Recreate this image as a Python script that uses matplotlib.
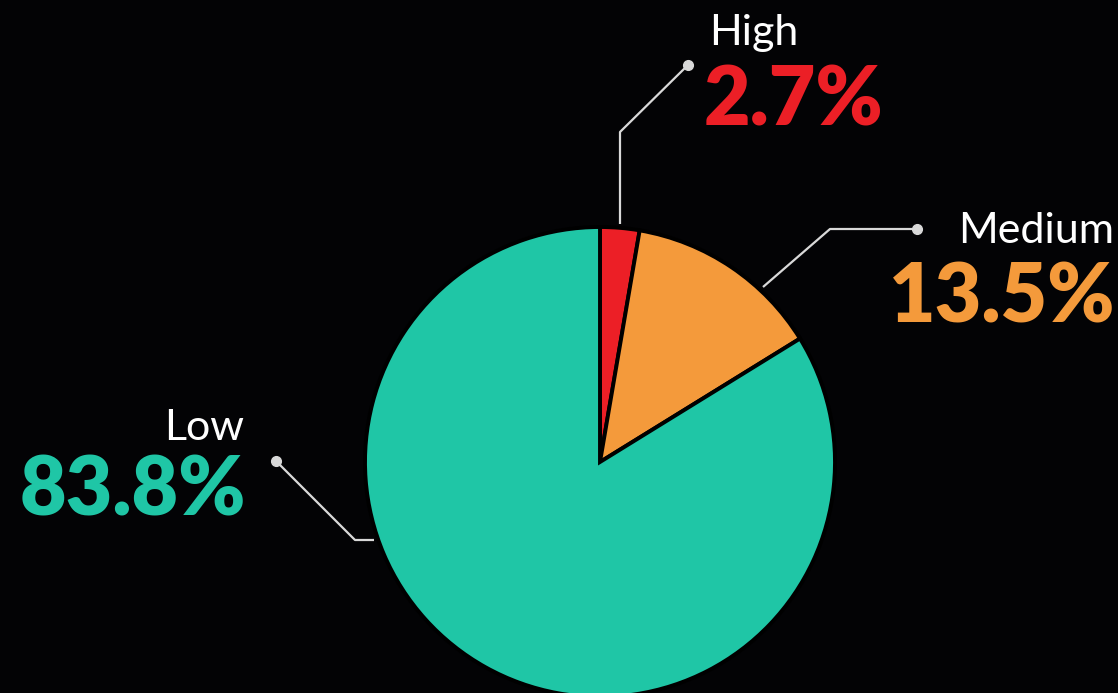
import matplotlib
matplotlib.use("Agg")
import matplotlib.pyplot as plt

categories = ["High", "Medium", "Low"]
values = [2.7, 13.5, 83.8]
labels_pct = ["2.7%", "13.5%", "83.8%"]
colors = ["#EC1F26", "#F49A3B", "#1FC6A6"]

W, H = 1118, 693
fig = plt.figure(figsize=(W / 100, H / 100), dpi=100)
fig.patch.set_facecolor("#030305")
ax = fig.add_axes([0, 0, 1, 1])
ax.set_facecolor("#030305")

cx, cy, r = 600, H - 462, 235
ax.pie(values, colors=colors, startangle=90, counterclock=False,
       center=(cx, cy), radius=r, frame=True,
       wedgeprops=dict(edgecolor="black", linewidth=2.8))
ax.set_xlim(0, W)
ax.set_ylim(0, H)
ax.set_aspect("equal")
ax.axis("off")

def Y(y):
    return H - y

line_col = "#D9D9D9"
leaders = [
    [(620, 224), (620, 132), (688, 65)],
    [(763, 287), (830, 229), (917, 229)],
    [(374, 540), (355, 540), (276, 461)],
]
for pts in leaders:
    xs = [p[0] for p in pts]
    ys = [Y(p[1]) for p in pts]
    ax.plot(xs, ys, color=line_col, lw=1.6, solid_capstyle="butt", zorder=5)
    ax.plot(xs[-1], ys[-1], "o", color=line_col, ms=7, zorder=6)

fam = ["Lato", "DejaVu Sans"]
# name labels
ax.text(709, Y(33), categories[0], color="white", fontsize=31, family=fam,
        ha="left", va="center")
ax.text(1114, Y(231), categories[1], color="white", fontsize=31, family=fam,
        ha="right", va="center")
ax.text(244, Y(428), categories[2], color="white", fontsize=31, family=fam,
        ha="right", va="center")
# percentages
ax.text(704, Y(102), labels_pct[0], color=colors[0], fontsize=58, family=fam,
        fontweight="heavy", ha="left", va="center")
ax.text(1115, Y(299), labels_pct[1], color=colors[1], fontsize=58, family=fam,
        fontweight="heavy", ha="right", va="center")
ax.text(246, Y(492), labels_pct[2], color=colors[2], fontsize=58, family=fam,
        fontweight="heavy", ha="right", va="center")

fig.savefig("out.png", dpi=100, facecolor=fig.get_facecolor())
